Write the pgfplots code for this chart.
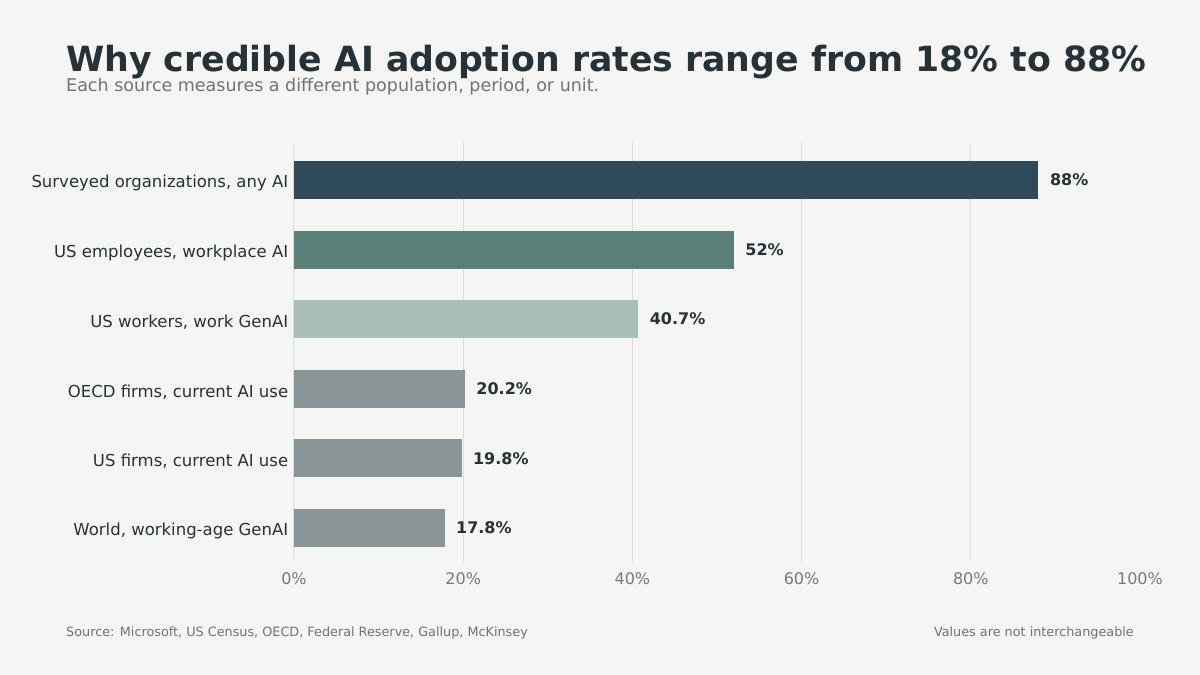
\documentclass[border=0pt]{standalone}
\usepackage{fontspec}
\setmainfont{DejaVu Sans}
\usepackage{pgfplots}
\pgfplotsset{compat=1.18}

\definecolor{bg}{HTML}{F5F5F3}
\definecolor{ink}{HTML}{263238}
\definecolor{sub}{HTML}{6E7476}
\definecolor{tick}{HTML}{757B7D}
\definecolor{gridc}{HTML}{DCDCDA}
\definecolor{c1}{HTML}{2F4B5A}
\definecolor{c2}{HTML}{5A7E78}
\definecolor{c3}{HTML}{AABEBA}
\definecolor{c4}{HTML}{889496}

\begin{document}
\begin{tikzpicture}[x=1pt,y=1pt]
\fill[bg] (0,0) rectangle (1200,675);
\useasboundingbox (0,0) rectangle (1200,675);

\node[anchor=base west, inner sep=0, text=ink, font=\fontsize{34.7}{40}\selectfont\bfseries]
  at (66,603) {Why credible AI adoption rates range from 18\% to 88\%};
\node[anchor=base west, inner sep=0, text=sub, font=\fontsize{17.5}{20}\selectfont]
  at (66,583) {Each source measures a different population, period, or unit.};

\begin{axis}[
    at={(294pt,113pt)}, anchor=south west,
    scale only axis, width=846pt, height=420pt,
    xmin=0, xmax=100, ymin=-0.49, ymax=5.546,
    axis line style={draw=none},
    xtick={0,20,40,60,80,100},
    xticklabel={\pgfmathprintnumber{\tick}\%},
    xticklabel style={text=tick, font=\fontsize{16}{19}\selectfont, yshift=-7pt},
    /pgf/number format/assume math mode=true,
    extra x ticks={0,20,40,60,80},
    extra x tick labels={},
    extra x tick style={grid=major, major grid style={gridc, line width=1pt}},
    ytick={0,1,2,3,4,5},
    yticklabels={{World, working-age GenAI}, {US firms, current AI use}, {OECD firms, current AI use},
      {US workers, work GenAI}, {US employees, workplace AI}, {Surveyed organizations, any AI}},
    yticklabel style={text=ink, font=\fontsize{16.5}{19}\selectfont, xshift=2pt, yshift=-3pt},
    tick style={draw=none},
    xbar, bar width=38pt, bar shift=0pt,
    nodes near coords={\pgfplotspointmeta},
    point meta=explicit symbolic,
    every node near coord/.append style={anchor=west, xshift=8pt, text=ink,
      font=\fontsize{16}{19}\selectfont\bfseries},
]
\addplot[draw=none, fill=c1] coordinates {(88,5) [88\%]};
\addplot[draw=none, fill=c2] coordinates {(52,4) [52\%]};
\addplot[draw=none, fill=c3] coordinates {(40.7,3) [40.7\%]};
\addplot[draw=none, fill=c4] coordinates {(20.2,2) [20.2\%]};
\addplot[draw=none, fill=c4] coordinates {(19.8,1) [19.8\%]};
\addplot[draw=none, fill=c4] coordinates {(17.8,0) [17.8\%]};
\end{axis}

\node[anchor=base west, inner sep=0, text=sub, font=\fontsize{12.8}{15}\selectfont]
  at (66,38) {Source: Microsoft, US Census, OECD, Federal Reserve, Gallup, McKinsey};
\node[anchor=base east, inner sep=0, text=sub, font=\fontsize{12.8}{15}\selectfont]
  at (1134,38) {Values are not interchangeable};
\end{tikzpicture}
\end{document}
